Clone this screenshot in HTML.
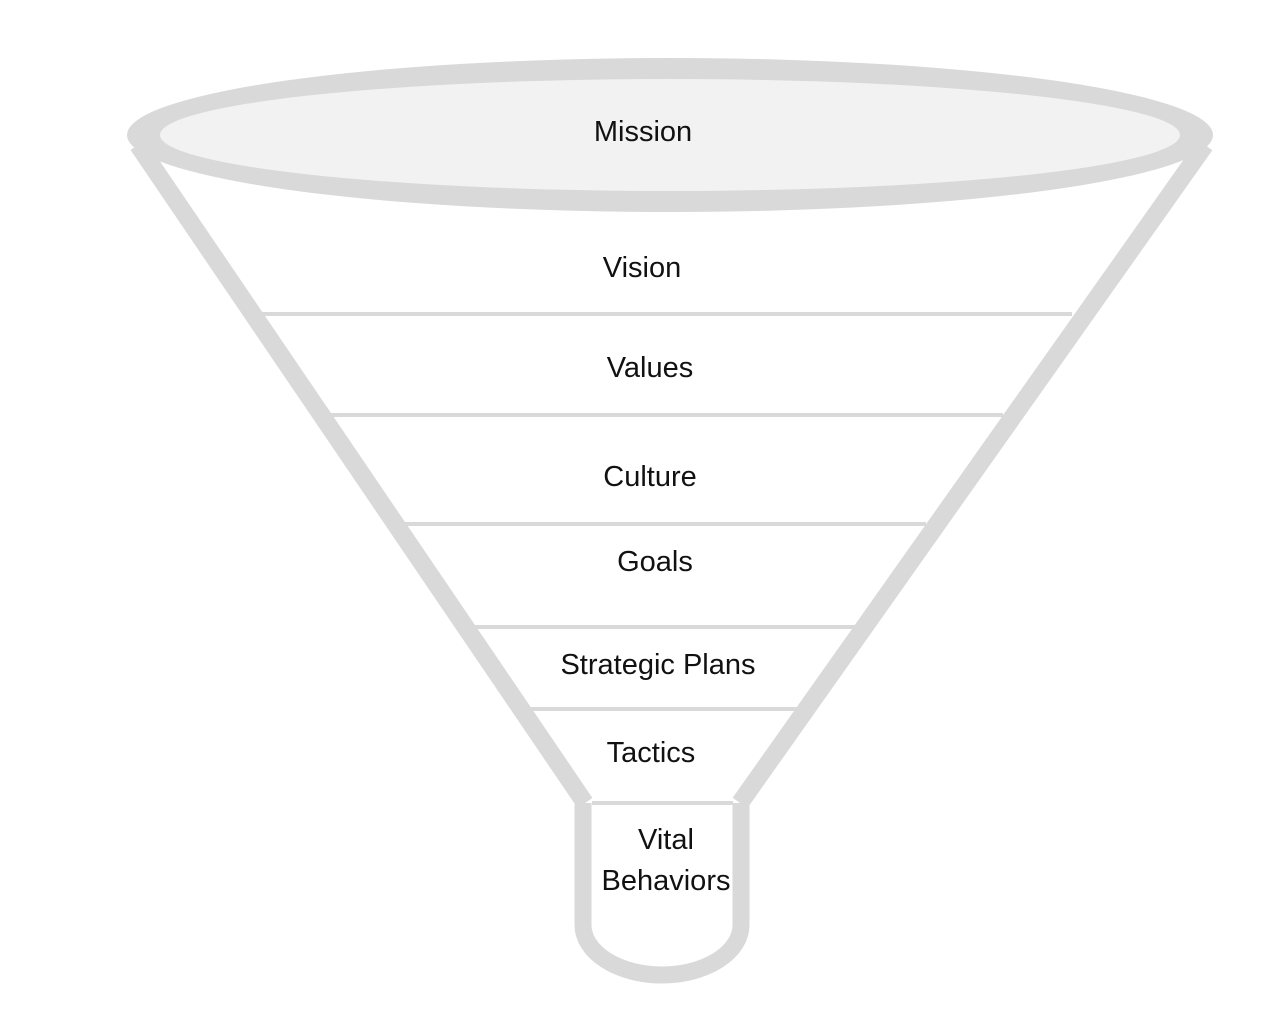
<!DOCTYPE html>
<html><head><style>
html,body{margin:0;padding:0;background:#fff;}
svg{display:block;}
text{font-family:"Liberation Sans",sans-serif;font-size:29px;fill:#111;text-anchor:middle;dominant-baseline:central;}
</style></head><body>
<svg width="1280" height="1036" viewBox="0 0 1280 1036" xmlns="http://www.w3.org/2000/svg">
<g stroke="#d9d9d9" fill="none">
<line x1="138" y1="145" x2="585" y2="803" stroke-width="18"/>
<line x1="1205" y1="145" x2="740" y2="803" stroke-width="18"/>
<path d="M583 803 V925 A79 50 0 0 0 741 925 V803" stroke-width="17"/>
<g stroke-width="4">
<line x1="262" y1="314" x2="1072" y2="314"/>
<line x1="330" y1="415" x2="1003" y2="415"/>
<line x1="404" y1="524" x2="926" y2="524"/>
<line x1="473" y1="627" x2="857" y2="627"/>
<line x1="528" y1="709" x2="797" y2="709"/>
<line x1="592" y1="803" x2="733" y2="803"/>
</g>
</g>
<ellipse cx="670" cy="135" rx="543" ry="77" fill="#d9d9d9"/>
<ellipse cx="670" cy="135" rx="510" ry="56" fill="#f2f2f2"/>
<text x="643" y="132">Mission</text>
<text x="642" y="268">Vision</text>
<text x="650" y="368">Values</text>
<text x="650" y="477">Culture</text>
<text x="655" y="562">Goals</text>
<text x="658" y="665">Strategic Plans</text>
<text x="651" y="753">Tactics</text>
<text x="666" y="840">Vital</text>
<text x="666" y="881">Behaviors</text>
</svg>
</body></html>
